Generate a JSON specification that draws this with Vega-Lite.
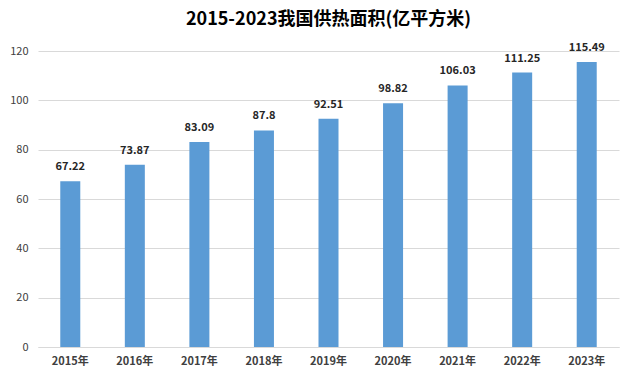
{
  "$schema": "https://vega.github.io/schema/vega-lite/v6.json",
  "width": 581,
  "height": 296,
  "autosize": {"type": "none"},
  "padding": {"left": 38, "top": 51, "right": 16, "bottom": 33},
  "background": "white",
  "title": {
    "text": "2015-2023我国供热面积(亿平方米)",
    "font": "Noto Sans CJK SC",
    "fontSize": 18,
    "fontWeight": "bold",
    "color": "#000000",
    "anchor": "middle",
    "offset": 13
  },
  "data": {
    "values": [
      {"year": "2015年", "value": 67.22, "label": "67.22"},
      {"year": "2016年", "value": 73.87, "label": "73.87"},
      {"year": "2017年", "value": 83.09, "label": "83.09"},
      {"year": "2018年", "value": 87.8, "label": "87.8"},
      {"year": "2019年", "value": 92.51, "label": "92.51"},
      {"year": "2020年", "value": 98.82, "label": "98.82"},
      {"year": "2021年", "value": 106.03, "label": "106.03"},
      {"year": "2022年", "value": 111.25, "label": "111.25"},
      {"year": "2023年", "value": 115.49, "label": "115.49"}
    ]
  },
  "encoding": {
    "x": {
      "field": "year",
      "type": "ordinal",
      "sort": null,
      "scale": {"paddingInner": 0.69, "paddingOuter": 0.345},
      "axis": {
        "title": null,
        "labelAngle": 0,
        "labelFont": "Noto Sans CJK SC",
        "labelFontSize": 11,
        "labelFontWeight": "bold",
        "labelColor": "#404040",
        "labelPadding": 8,
        "ticks": false,
        "domainColor": "#d9d9d9",
        "grid": false
      }
    },
    "y": {
      "field": "value",
      "type": "quantitative",
      "scale": {"domain": [0, 120]},
      "axis": {
        "title": null,
        "values": [0, 20, 40, 60, 80, 100, 120],
        "labelFont": "Noto Sans CJK SC",
        "labelFontSize": 11,
        "labelColor": "#404040",
        "labelPadding": 10,
        "ticks": false,
        "domain": false,
        "gridColor": "#d9d9d9"
      }
    }
  },
  "layer": [
    {"mark": {"type": "bar", "color": "#5B9BD5"}},
    {
      "mark": {
        "type": "text",
        "dy": -14,
        "font": "Noto Sans CJK SC",
        "fontSize": 11,
        "fontWeight": "bold",
        "color": "#262626"
      },
      "encoding": {"text": {"field": "label"}}
    }
  ],
  "config": {"view": {"stroke": null}}
}
